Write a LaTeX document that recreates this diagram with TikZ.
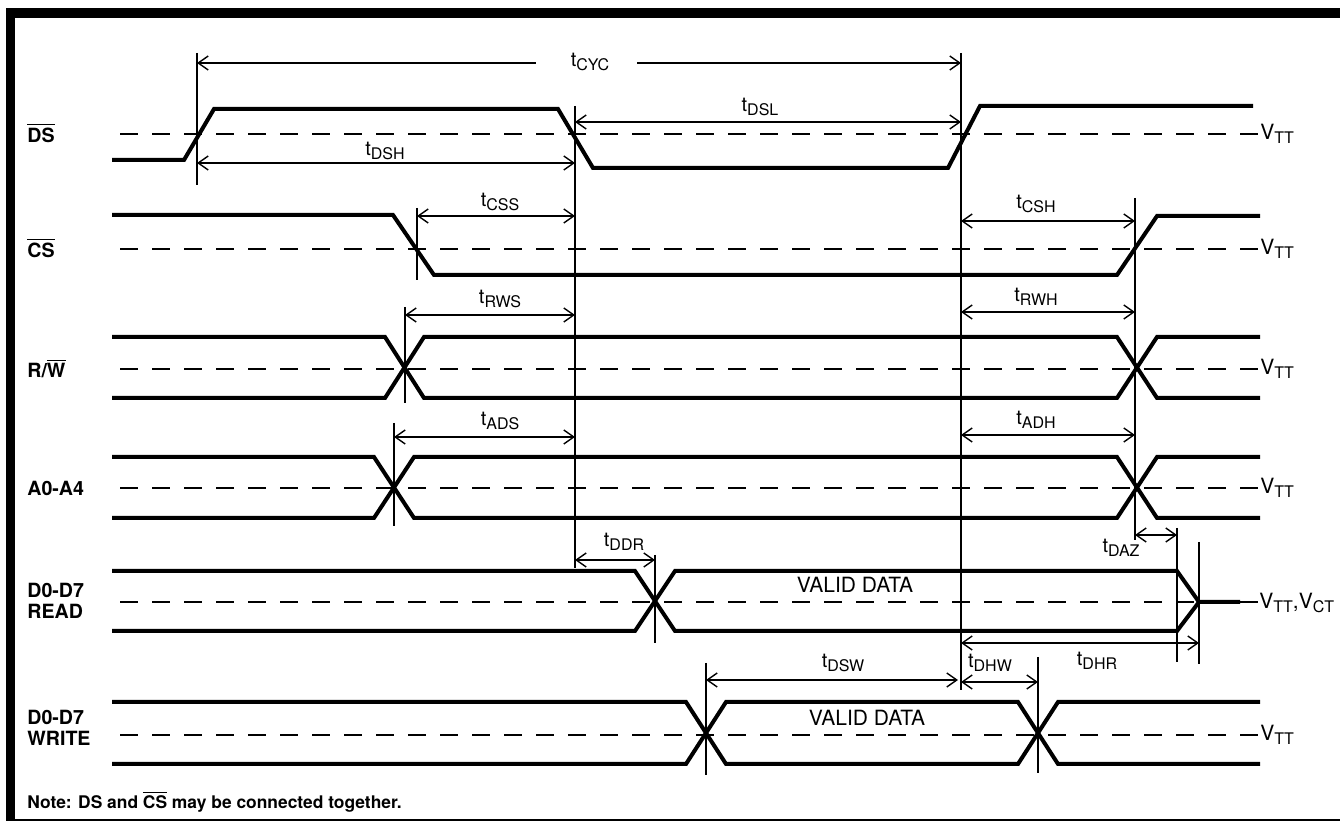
\documentclass[tikz,border=0pt]{standalone}
\usepackage{fontspec}
\setmainfont{TeX Gyre Heros}
\usetikzlibrary{arrows.meta}
\newcommand{\tsub}[1]{\raisebox{-0.4ex}{\fontsize{8}{9}\selectfont #1}}

\begin{document}
\begin{tikzpicture}[x=0.5pt,y=-0.5pt,
  >={Straight Barb[length=5pt,width=7pt]},
  wave/.style={line width=2pt},
  thr/.style={line width=0.75pt,dash pattern=on 9pt off 7pt},
  guide/.style={line width=0.7pt},
  dimarr/.style={line width=0.7pt},
  sig/.style={anchor=west,align=left,inner sep=0pt,font=\fontsize{9.8}{10.5}\selectfont\bfseries},
  tlab/.style={inner sep=0pt,font=\fontsize{10}{12}\selectfont},
  vlab/.style={anchor=west,inner sep=0pt,font=\fontsize{10.5}{12}\selectfont}]
\useasboundingbox (0,0) rectangle (1340,822);

\fill (6,8) rectangle (1340,18);
\fill (6,8) rectangle (15,821);
\draw[line width=1pt] (6,820) -- (1340,820);

\draw[thr] (120,134) -- (1258,134);
\draw[thr] (120,249) -- (1258,249);
\draw[thr] (120,369) -- (1258,369);
\draw[thr] (120,488) -- (1258,488);
\draw[thr] (120,602) -- (1258,602);
\draw[thr] (120,735) -- (1258,735);

\draw[wave] (112,160) -- (184,160) -- (214,109) -- (558,109) -- (593,168) -- (948,168) -- (980,106) -- (1253,106);

\draw[wave] (112,215) -- (393,215) -- (434,275) -- (1117,275) -- (1157,216) -- (1260,216);

\draw[wave] (112,337) -- (385,337) -- (424,398) -- (1117,398) -- (1157,337) -- (1260,337);
\draw[wave] (112,398) -- (385,398) -- (424,337) -- (1117,337) -- (1157,398) -- (1260,398);

\draw[wave] (112,457) -- (374,457) -- (414,518) -- (1117,518) -- (1157,457) -- (1260,457);
\draw[wave] (112,518) -- (374,518) -- (414,457) -- (1117,457) -- (1157,518) -- (1260,518);

\draw[wave] (112,571) -- (635,571) -- (675,631) -- (1177,631) -- (1199,602);
\draw[wave] (112,631) -- (635,631) -- (675,571) -- (1177,571) -- (1199,602) -- (1240,602);

\draw[wave] (112,702) -- (686,702) -- (726,764) -- (1018,764) -- (1058,702) -- (1260,702);
\draw[wave] (112,764) -- (686,764) -- (726,702) -- (1018,702) -- (1058,764) -- (1260,764);

% guide lines
\draw[guide] (197,53) -- (197,185);
\draw[guide] (575,106) -- (575,568);
\draw[guide] (961,53) -- (961,690);
\draw[guide] (417,208) -- (417,280);
\draw[guide] (1135,198) -- (1135,540);
\draw[guide] (405,307) -- (405,403);
\draw[guide] (394,423) -- (394,526);
\draw[guide] (655,555) -- (655,643);
\draw[guide] (1177,528) -- (1177,662);
\draw[guide] (1199,542) -- (1199,664);
\draw[guide] (706,663) -- (706,775);
\draw[guide] (1038,657) -- (1038,773);

% timing arrows
\draw[dimarr,<-] (197,63) -- (536,63);
\draw[dimarr,->] (637,63) -- (961,63);
\draw[dimarr,<->] (197,163) -- (575,163);
\draw[dimarr,<->] (575,122) -- (961,122);
\draw[dimarr,<->] (417,216) -- (575,216);
\draw[dimarr,<->] (961,221) -- (1135,221);
\draw[dimarr,<->] (405,315) -- (575,315);
\draw[dimarr,<->] (961,312) -- (1135,312);
\draw[dimarr,<->] (394,437) -- (575,437);
\draw[dimarr,<->] (961,435) -- (1135,435);
\draw[dimarr,<->] (575,560) -- (655,560);
\draw[dimarr,<->] (1135,535) -- (1177,535);
\draw[dimarr,<->] (961,643) -- (1199,643);
\draw[dimarr,<->] (706,680) -- (958,680);
\draw[dimarr,<->] (961,682) -- (1038,682);

\node[tlab] (tcyc) at (590,62) {t\tsub{CYC}};
\node[tlab] (tdsh) at (385,151) {t\tsub{DSH}};
\node[tlab] (tdsl) at (760,107) {t\tsub{DSL}};
\node[tlab] (tcss) at (500,202) {t\tsub{CSS}};
\node[tlab] (tcsh) at (1036,204) {t\tsub{CSH}};
\node[tlab] (trws) at (500,299) {t\tsub{RWS}};
\node[tlab] (trwh) at (1036,297) {t\tsub{RWH}};
\node[tlab] (tads) at (500,421) {t\tsub{ADS}};
\node[tlab] (tadh) at (1036,420) {t\tsub{ADH}};
\node[tlab] (tddr) at (624,542) {t\tsub{DDR}};
\node[tlab] (tdaz) at (1121,548) {t\tsub{DAZ}};
\node[tlab] (tdhr) at (1097,661) {t\tsub{DHR}};
\node[tlab] (tdsw) at (843,663) {t\tsub{DSW}};
\node[tlab] (tdhw) at (990,663) {t\tsub{DHW}};

\node[tlab,font=\fontsize{10.5}{12}\selectfont] (valr) at (855,585) {VALID DATA};
\node[tlab,font=\fontsize{10.5}{12}\selectfont] (valw) at (867,718) {VALID DATA};

\node[vlab] (v1) at (1260,134) {V\tsub{TT}};
\node[vlab] (v2) at (1260,249) {V\tsub{TT}};
\node[vlab] (v3) at (1260,369) {V\tsub{TT}};
\node[vlab] (v4) at (1260,488) {V\tsub{TT}};
\node[vlab] (v5) at (1259,603) {V\tsub{TT},V\tsub{CT}};
\node[vlab] (v6) at (1260,735) {V\tsub{TT}};

\node[sig] (ds) at (27,133) {$\overline{\mbox{DS}}$};
\node[sig] (cs) at (27,248) {$\overline{\mbox{CS}}$};
\node[sig] (rw) at (27,368) {R/$\overline{\mbox{W}}$};
\node[sig] (addr) at (27,488) {A0-A4};
\node[sig] (rd) at (27,601) {D0-D7\\READ};
\node[sig] (wr) at (27,728) {D0-D7\\WRITE};
\node[sig,font=\fontsize{8.7}{10.5}\selectfont\bfseries] (note) at (27,802) {Note: DS and $\overline{\mbox{CS}}$ may be connected together.};
\end{tikzpicture}
\end{document}
